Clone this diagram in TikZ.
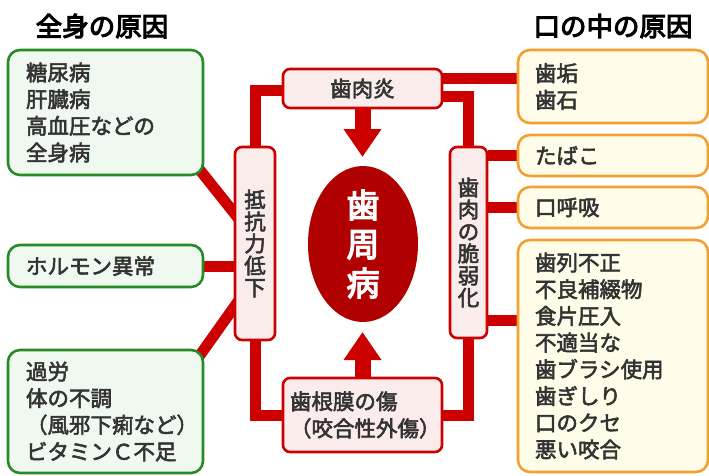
\documentclass[tikz,border=0pt]{standalone}
\usepackage{fontspec}
\setmainfont{Noto Sans CJK JP}
\newfontfamily\jpm[FakeBold=2.6]{Noto Sans CJK JP}
\newfontfamily\jpb[FakeBold=4]{Noto Sans CJK JP}
\usetikzlibrary{arrows.meta,shapes.geometric,backgrounds}
\definecolor{cred}{HTML}{CC0000}
\definecolor{dred}{HTML}{B00000}
\definecolor{rfill}{HTML}{FBECEC}
\definecolor{gline}{HTML}{268A26}
\definecolor{gfill}{HTML}{EFF9EF}
\definecolor{oline}{HTML}{F4A030}
\definecolor{ofill}{HTML}{FFFDE9}
\definecolor{txt}{HTML}{333333}
\begin{document}
\begin{tikzpicture}[x=1pt,y=-1pt,
  gbox/.style={draw=gline, fill=gfill, line width=2.6pt, rounded corners=12pt,
    minimum width=195pt, text width=159pt, inner xsep=18pt, inner ysep=0pt,
    align=left, text=txt, font={\jpm\fontsize{21.5}{26.7}\selectfont}},
  obox/.style={gbox, draw=oline, fill=ofill, minimum width=190pt, text width=156pt, inner xsep=17pt},
  rbox/.style={draw=cred, fill=rfill, line width=2.6pt, rounded corners=7pt,
    inner sep=0pt, text=txt, font={\jpm\fontsize{21.5}{27}\selectfont}},
  vbox/.style={rbox, align=center, font={\jpm\fontsize{21.5}{22}\selectfont}},
  title/.style={text=black, font={\jpb\fontsize{26.5}{30}\selectfont}},
  conn/.style={draw=cred, line width=11pt, line join=miter},
  bigarr/.style={draw=cred, line width=16pt, -{Triangle[width=36pt,length=28pt]}}
]
\useasboundingbox (0,0) rectangle (709,475);

% titles
\node[title] (tL) at (102,26) {全身の原因};
\node[title] (tR) at (613,26) {口の中の原因};

% left green boxes
\node[gbox, minimum height=125pt] (g1) at (105.5,112.5) {糖尿病\\肝臓病\\高血圧などの\\全身病};
\node[gbox, minimum height=42pt] (g2) at (105.5,266) {ホルモン異常};
\node[gbox, minimum height=123pt] (g3) at (105.5,411.5) {過労\\体の不調\\（風邪下痢など）\\ビタミンＣ不足};

% right orange boxes
\node[obox, minimum height=73pt] (o1) at (613,86.5) {歯垢\\歯石};
\node[obox, minimum height=41pt] (o2) at (613,155.5) {たばこ};
\node[obox, minimum height=41pt] (o3) at (613,207.5) {口呼吸};
\node[obox, minimum height=232pt] (o4) at (613,356) {歯列不正\\不良補綴物\\食片圧入\\不適当な\\歯ブラシ使用\\歯ぎしり\\口のクセ\\悪い咬合};

% red boxes
\node[rbox, minimum width=159pt, minimum height=39pt] (r1) at (362.5,88.5) {歯肉炎};
\node[vbox, minimum width=40pt, minimum height=193pt] (r2) at (255,243.5) {抵\\抗\\力\\低\\下};
\node[vbox, minimum width=37pt, minimum height=191pt] (r3) at (468.5,242.5) {歯\\肉\\の\\脆\\弱\\化};
\node[rbox, minimum width=159pt, minimum height=74pt, text width=145pt, inner xsep=7pt, align=left] (r4) at (362.5,415) {歯根膜の傷\\（咬合性外傷）};

% central ellipse
\node[ellipse, fill=dred, minimum width=110pt, minimum height=156pt, inner sep=0pt,
  align=center, text=white, font={\jpb\fontsize{33}{39}\selectfont}] (e) at (363,244) {歯\\周\\病};

% arrows
\coordinate (dtip) at (362.5,157);
\coordinate (utip) at (362.5,332);
\draw[bigarr] (r1.south) -- (dtip);
\draw[bigarr] (r4.north) -- (utip);

% connectors behind
\begin{scope}[on background layer]
\fill[white] (0,0) rectangle (709,475);
\draw[conn] ([yshift=-1.5pt]r1.west) -| (r2.north);
\coordinate (a1) at ([yshift=10.5pt]r1.east);
\draw[conn] (a1) -- (a1 -| o1.west);
\coordinate (a2) at ([yshift=-7.5pt]r1.east);
\draw[conn] (a2) -| (r3.north);
\draw[conn] (r2.south) |- (r4.west);
\draw[conn] (r3.south) |- (r4.east);
\draw[conn] ([xshift=-13pt,yshift=17pt]g1.south east) -- ([xshift=10pt,yshift=18.5pt]r2.west);
\draw[conn] (g2.east) -- (g2.east -| r2.west);
\draw[conn] ([xshift=-13pt,yshift=-18.6pt]g3.north east) -- ([xshift=10pt,yshift=-50.1pt]r2.west);
\draw[conn] (o2.west -| r3.east) -- (o2.west);
\draw[conn] (o3.west -| r3.east) -- (o3.west);
\coordinate (a3) at ([yshift=-77.5pt]r3.east);
\draw[conn] (a3) -- (a3 -| o4.west);
\end{scope}
\end{tikzpicture}
\end{document}
